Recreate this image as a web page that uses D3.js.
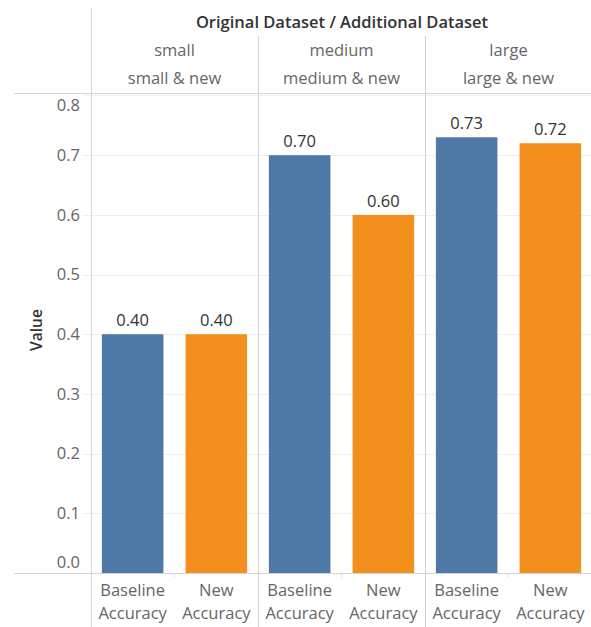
<!DOCTYPE html>
<html><head><meta charset="utf-8">
<script src="https://cdn.jsdelivr.net/npm/d3@7"></script>
<style>
body{margin:0;background:#fff;}
text{font-family:"Open Sans","Noto Sans",sans-serif;}
</style></head>
<body><svg id="c" width="591" height="627"></svg>
<script>
const datasets = ["small","medium","large"];
const additional = ["small & new","medium & new","large & new"];
const measures = ["Baseline Accuracy","New Accuracy"];
const baseline = [0.40, 0.70, 0.73];
const newAcc = [0.40, 0.60, 0.72];
const yTicks = [0.0,0.1,0.2,0.3,0.4,0.5,0.6,0.7,0.8];
const colors = ["#4e79a7","#f38f1c"];

const svg = d3.select("#c");
const W = 591, H = 627;
const pLeft = 91, pRight = 592, pTop = 95, pBottom = 573;
const fs = 16.5;
const y = d3.scaleLinear().domain([0,0.8008]).range([pBottom, pTop]);
const panelX = d3.scaleBand().domain(datasets).range([pLeft, pRight]).padding(0);
const barX = d3.scaleBand().domain(measures).range([0, panelX.bandwidth()]).paddingInner(0.265).paddingOuter(0.13);

const lineC = "#d4d4d4";
svg.append("g").selectAll("line").data(yTicks.filter(d=>d>0)).join("line")
  .attr("x1", 83).attr("x2", W).attr("y1", d=>Math.round(y(d))+0.5).attr("y2", d=>Math.round(y(d))+0.5)
  .attr("stroke", "#efefef").attr("stroke-width",1);

svg.append("g").selectAll("text").data(yTicks).join("text")
  .attr("x", 80).attr("y", d=> Math.min(Math.max(y(d), pTop+10), pBottom-11))
  .attr("dy","0.35em").attr("text-anchor","end")
  .attr("font-size", fs).attr("fill","#666")
  .text(d=>d3.format(".1f")(d));

svg.append("text").attr("transform", `translate(42,${(pTop+pBottom)/2 - 4}) rotate(-90)`)
  .attr("text-anchor","middle").attr("font-size",15.5).attr("font-weight",600).attr("fill","#333")
  .text("Value");

svg.append("text").attr("x", (pLeft+W)/2 + 1).attr("y", 22).attr("dy","0.35em")
  .attr("text-anchor","middle").attr("font-size",fs).attr("font-weight",600).attr("fill","#333")
  .text("Original Dataset / Additional Dataset");

const panels = svg.append("g").selectAll("g").data(datasets).join("g")
  .attr("transform", d=>`translate(${panelX(d)},0)`);

panels.append("text").attr("x", panelX.bandwidth()/2).attr("y", 50).attr("dy","0.35em")
  .attr("text-anchor","middle").attr("font-size",fs).attr("fill","#666").text(d=>d);
panels.append("text").attr("x", panelX.bandwidth()/2).attr("y", 78).attr("dy","0.35em")
  .attr("text-anchor","middle").attr("font-size",fs).attr("fill","#666").text((d,i)=>additional[i]);

const vals = datasets.map((d,i)=>[{m:measures[0],v:baseline[i],c:colors[0]},{m:measures[1],v:newAcc[i],c:colors[1]}]);

panels.each(function(d,i){
  const g = d3.select(this);
  g.selectAll("rect").data(vals[i]).join("rect")
    .attr("x", e=>barX(e.m)).attr("width", barX.bandwidth())
    .attr("y", e=>y(e.v)).attr("height", e=>pBottom - y(e.v)).attr("fill", e=>e.c);
  g.selectAll("text.val").data(vals[i]).join("text").attr("class","val")
    .attr("x", e=>barX(e.m)+barX.bandwidth()/2).attr("y", e=>y(e.v)-14).attr("dy","0.35em")
    .attr("text-anchor","middle").attr("font-size",fs).attr("fill","#333")
    .text(e=>d3.format(".2f")(e.v));
  vals[i].forEach((e,j)=>{
    const cx = barX(e.m)+barX.bandwidth()/2;
    const words = e.m.split(" ");
    words.forEach((w,k)=>{
      g.append("text").attr("x", cx).attr("y", 590 + k*23).attr("dy","0.35em")
        .attr("text-anchor","middle").attr("font-size",fs).attr("fill","#666").text(w);
    });
  });
  g.append("line").attr("x1", panelX.bandwidth()/2).attr("x2", panelX.bandwidth()/2)
    .attr("y1", pBottom).attr("y2", pBottom+5).attr("stroke","#e6e6e6");
});

svg.append("line").attr("x1", pLeft+0.5).attr("x2", pLeft+0.5).attr("y1", 8).attr("y2", H).attr("stroke", lineC);
datasets.slice(1).forEach(d=>{
  const xx = Math.round(panelX(d))+0.5;
  svg.append("line").attr("x1", xx).attr("x2", xx).attr("y1", 36).attr("y2", H).attr("stroke", lineC);
});
svg.append("line").attr("x1", 14).attr("x2", W).attr("y1", 93.5).attr("y2", 93.5).attr("stroke", lineC);
svg.append("line").attr("x1", 14).attr("x2", W).attr("y1", pBottom+0.5).attr("y2", pBottom+0.5).attr("stroke", lineC);
</script></body></html>
